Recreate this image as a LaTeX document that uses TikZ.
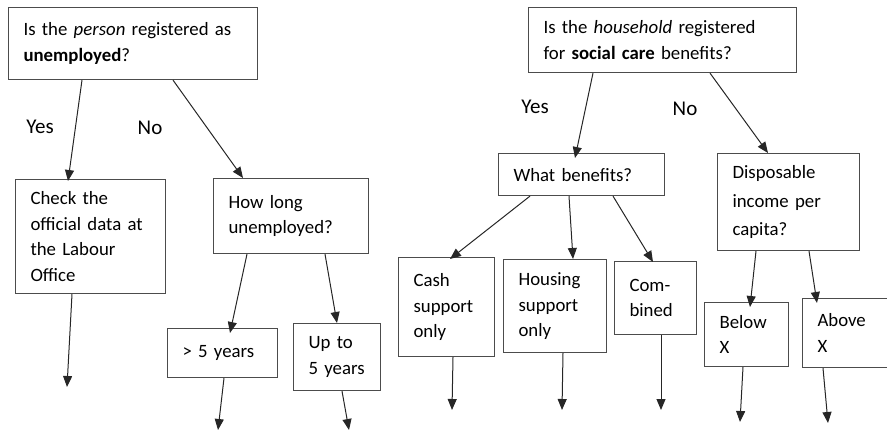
\documentclass[tikz,border=0pt]{standalone}
\usepackage{fontspec}
\setmainfont{Carlito}
\usetikzlibrary{arrows.meta}
\begin{document}
\begin{tikzpicture}[x=1pt,y=-1pt,
    box/.style={draw=black!70, line width=1.1pt, rectangle, anchor=north west,
        align=left, inner xsep=15pt, inner ysep=0pt,
        font=\fontsize{18.8}{25.6}\selectfont},
    lbl/.style={font=\fontsize{21}{24}\selectfont},
    arr/.style={draw=black!85, line width=1pt, -{Triangle[length=11pt,width=9pt]}}]
\clip (0,0) rectangle (887,431);
% unemployment side
\node[box, text width=219pt, minimum height=72pt] (person) at (8,7)
    {Is the \emph{person} registered as\\\textbf{unemployed}?};
\node[box, text width=120pt, minimum height=114pt] (check) at (15,179)
    {Check the\\official data at\\the Labour\\Office};
\node[box, text width=125pt, minimum height=75pt] (howlong) at (213,178)
    {How long\\unemployed?};
\node[box, text width=80pt, minimum height=49pt] (over5) at (167,328)
    {> 5 years};
\node[box, text width=57pt, minimum height=67pt] (upto5) at (293,323)
    {Up to\\5 years};
\node[lbl] (yes1) at (40,127) {Yes};
\node[lbl] (no1) at (150,128) {No};
% social care side
\node[box, text width=238pt, minimum height=65pt] (household) at (528,7)
    {Is the \emph{household} registered\\for \textbf{social care} benefits?};
\node[box, text width=136pt, minimum height=42pt] (what) at (498,153)
    {What benefits?};
\node[box, text width=112pt, minimum height=97pt, font=\fontsize{18.8}{28.5}\selectfont] (income) at (717,153)
    {Disposable\\income per\\capita?};
\node[box, text width=66pt, minimum height=99pt] (cash) at (398,257)
    {Cash\\support\\only};
\node[box, text width=73pt, minimum height=93pt] (housing) at (503,259)
    {Housing\\support\\only};
\node[box, text width=52pt, minimum height=73pt] (combined) at (614,261)
    {Com-\\bined};
\node[box, text width=54pt, minimum height=64pt] (below) at (704,302)
    {Below\\X};
\node[box, text width=60pt, minimum height=69pt] (above) at (802,298)
    {Above\\X};
\node[lbl] (yes2) at (535,107) {Yes};
\node[lbl] (no2) at (685,109) {No};
% free ends
\coordinate (checkend) at (67,387);
\coordinate (over5end) at (218,430);
\coordinate (upto5end) at (349,430);
\coordinate (cashend) at (452,410);
\coordinate (housingend) at (562,410);
\coordinate (combinedend) at (661,410);
\coordinate (belowend) at (740,422);
\coordinate (aboveend) at (828,423);
% connectors
\draw[arr] ([xshift=74pt]person.south west) -- ([xshift=53pt,yshift=-2pt]check.north west);
\draw[arr] ([xshift=165pt]person.south west) -- ([xshift=30pt]howlong.north west);
\draw[arr] ([xshift=57pt]check.south west) -- (checkend);
\draw[arr] ([xshift=34pt]howlong.south west) -- ([xshift=63pt,yshift=-5pt]over5.north west);
\draw[arr] ([xshift=112pt]howlong.south west) -- ([xshift=44pt]upto5.north west);
\draw[arr] ([xshift=57pt]over5.south west) -- (over5end);
\draw[arr] ([xshift=49pt]upto5.south west) -- (upto5end);
\draw[arr] ([xshift=65pt]household.south west) -- ([xshift=77pt,yshift=-5pt]what.north west);
\draw[arr] ([xshift=182pt]household.south west) -- ([xshift=51pt]income.north west);
\draw[arr] ([xshift=32pt]what.south west) -- ([xshift=52pt,yshift=-2pt]cash.north west);
\draw[arr] ([xshift=71pt]what.south west) -- ([xshift=70pt]housing.north west);
\draw[arr] ([xshift=115pt]what.south west) -- ([xshift=39pt,yshift=-1pt]combined.north west);
\draw[arr] ([xshift=55pt]cash.south west) -- (cashend);
\draw[arr] ([xshift=60pt]housing.south west) -- (housingend);
\draw[arr] ([xshift=47pt]combined.south west) -- (combinedend);
\draw[arr] ([xshift=39pt]income.south west) -- ([xshift=46pt,yshift=-5pt]below.north west);
\draw[arr] ([xshift=92pt]income.south west) -- ([xshift=15pt,yshift=-5pt]above.north west);
\draw[arr] ([xshift=39pt]below.south west) -- (belowend);
\draw[arr] ([xshift=21pt]above.south west) -- (aboveend);
\end{tikzpicture}
\end{document}
